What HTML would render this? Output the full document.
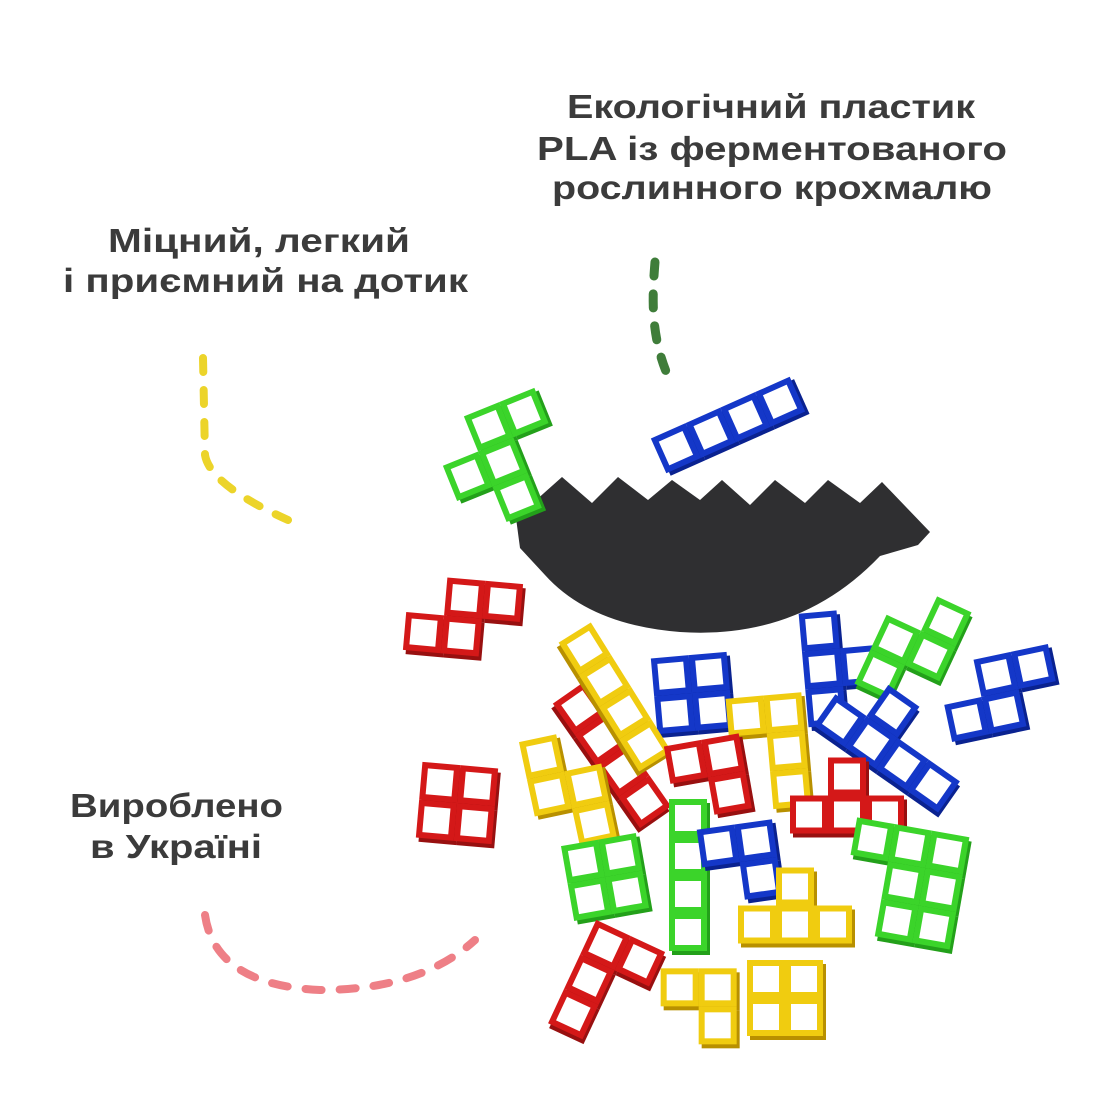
<!DOCTYPE html>
<html><head><meta charset="utf-8"><style>
html,body{margin:0;padding:0;background:#fff;width:1100px;height:1100px;overflow:hidden}
svg{display:block}
text{font-family:"Liberation Sans","DejaVu Sans",sans-serif;font-weight:bold;font-size:33px;fill:#3b3b3b}
</style></head><body>
<svg id="s" width="1100" height="1100" viewBox="0 0 1100 1100" xmlns="http://www.w3.org/2000/svg">
<text x="567" y="118" textLength="408" lengthAdjust="spacingAndGlyphs">Екологічний пластик</text>
<text x="537" y="160" textLength="470" lengthAdjust="spacingAndGlyphs">PLA із ферментованого</text>
<text x="552" y="199" textLength="440" lengthAdjust="spacingAndGlyphs">рослинного крохмалю</text>
<text x="108" y="252" textLength="302" lengthAdjust="spacingAndGlyphs">Міцний, легкий</text>
<text x="63" y="292" textLength="405" lengthAdjust="spacingAndGlyphs">і приємний на дотик</text>
<text x="70" y="817" textLength="213" lengthAdjust="spacingAndGlyphs">Вироблено</text>
<text x="90" y="858" textLength="172" lengthAdjust="spacingAndGlyphs">в Україні</text>
<path d="M655,262 C652,300 650,340 672,385" fill="none" stroke="#3f7d3a" stroke-width="9" stroke-linecap="round" stroke-dasharray="14 18"/>
<path d="M203,358 L205,455 Q210,485 288,520" fill="none" stroke="#ecd42a" stroke-width="8" stroke-linecap="round" stroke-dasharray="14 18"/>
<path d="M205,915 Q215,985 320,990 Q420,990 475,940" fill="none" stroke="#ee7f86" stroke-width="8" stroke-linecap="round" stroke-dasharray="16 18"/>
<path d="M516,518 L562,477 L592,503 L618,477 L648,500 L672,480 L700,500 L722,480 L750,505 L775,480 L805,503 L828,480 L860,503 L882,482 L930,532 L918,545 L880,556 Q800,640 680,632 Q590,625 545,575 L520,548 Z" fill="#2f2f31"/>
<g id="p"></g>
</svg>
<script>
var C={g:'#3bd42a',b:'#1437c8',r:'#d41818',y:'#f0cc10'};
var D={g:'#23a01a',b:'#0a2290',r:'#981010',y:'#b89000'};
var P=[
['g',500,455,-22,[[0,1],[1,1],[1,0],[1,2],[2,0]]],
['b',728,425,-24,[[0,0],[1,0],[2,0],[3,0]]],
['r',463,617,5,[[1,0],[2,0],[0,1],[1,1]]],
['r',457,803,5,[[0,0],[1,0],[0,1],[1,1]]],
['b',692,693,-5,[[0,0],[1,0],[0,1],[1,1]]],
['b',832,668,-5,[[0,0],[0,1],[1,1],[0,2]]],
['g',913,648,25,[[1,0],[0,1],[1,1],[0,2]]],
['b',1000,693,-12,[[0,1],[1,1],[1,0],[2,0]]],
['r',612,755,55,[[0,0],[1,0],[2,0],[3,0]]],
['y',615,697,58,[[0,0],[1,0],[2,0],[3,0]]],
['y',777,742,-5,[[0,0],[1,0],[1,1],[1,2]]],
['b',888,745,35,[[0,0],[1,0],[2,0],[3,0],[1,-1]]],
['r',713,770,-10,[[0,0],[1,0],[1,1]]],
['y',568,790,-12,[[0,0],[0,1],[1,1],[1,2]]],
['r',847,805,0,[[1,0],[0,1],[1,1],[2,1]]],
['g',688,875,0,[[0,0],[0,1],[0,2],[0,3]]],
['b',745,855,-8,[[0,0],[1,0],[1,1]]],
['g',605,877,-10,[[0,0],[1,0],[0,1],[1,1]]],
['g',915,880,10,[[0,0],[1,0],[1,1],[2,0],[2,1],[2,2],[1,2]]],
['y',795,915,0,[[1,0],[0,1],[1,1],[2,1]]],
['r',602,975,25,[[0,0],[1,0],[0,1],[0,2]]],
['y',705,1000,0,[[0,0],[1,0],[1,1]]],
['y',785,998,0,[[0,0],[1,0],[0,1],[1,1]]]
];
var s=38,h='';
P.forEach(function(p){
 var c=p[4],mx=0,my=0;c.forEach(function(q){mx+=q[0];my+=q[1]});mx=mx/c.length+.5;my=my/c.length+.5;
 h+='<g transform="translate('+p[1]+','+p[2]+') rotate('+p[3]+') translate('+(-mx*s)+','+(-my*s)+')">';
 c.forEach(function(q){h+='<rect x="'+(q[0]*s+3)+'" y="'+(q[1]*s+4)+'" width="'+s+'" height="'+s+'" fill="'+D[p[0]]+'"/>'});
 c.forEach(function(q){h+='<rect x="'+q[0]*s+'" y="'+q[1]*s+'" width="'+s+'" height="'+s+'" fill="'+C[p[0]]+'"/>'});
 c.forEach(function(q){h+='<rect x="'+(q[0]*s+6)+'" y="'+(q[1]*s+6)+'" width="'+(s-12)+'" height="'+(s-12)+'" fill="#fff"/>'});
 h+='</g>';
});
document.getElementById('p').innerHTML=h;
</script>
</body></html>
